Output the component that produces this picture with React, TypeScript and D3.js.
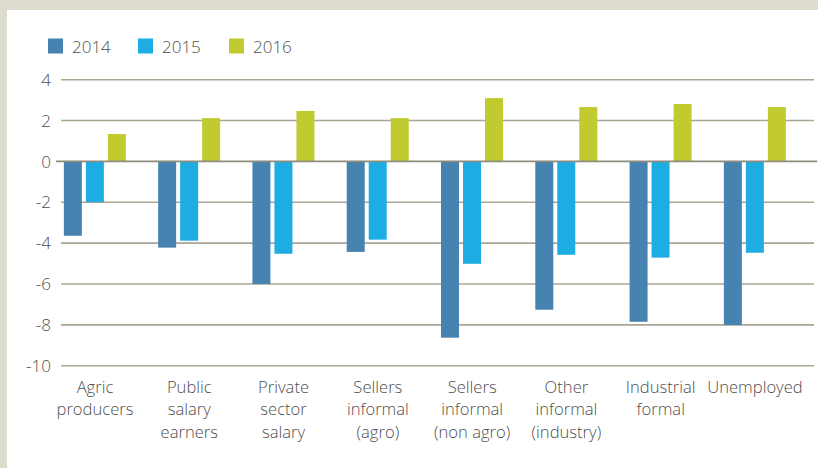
import React from "react";
import * as d3 from "d3";

const categories = [
  "Agric\nproducers",
  "Public\nsalary\nearners",
  "Private\nsector\nsalary",
  "Sellers\ninformal\n(agro)",
  "Sellers\ninformal\n(non agro)",
  "Other\ninformal\n(industry)",
  "Industrial\nformal",
  "Unemployed",
];
const seriesNames = ["2014", "2015", "2016"];
const values2014 = [-3.64, -4.22, -6.0, -4.43, -8.63, -7.26, -7.85, -8.01];
const values2015 = [-1.99, -3.88, -4.52, -3.83, -5.01, -4.57, -4.71, -4.47];
const values2016 = [1.34, 2.12, 2.47, 2.12, 3.1, 2.66, 2.81, 2.66];
const yTicks = [4, 2, 0, -2, -4, -6, -8, -10];
const colors = ["#4783b0", "#1eade3", "#c1ca2f"];

const W = 818;
const H = 468;
const FONT = "'Open Sans', sans-serif";
const TEXT = "#4f4f4f";

export default function App() {
  const seriesValues = [values2014, values2015, values2016];
  const x0 = d3.scaleBand<string>().domain(categories).range([47.86, 802.14]).padding(0);
  const x1 = d3
    .scaleBand<string>()
    .domain(seriesNames)
    .range([16, 78])
    .paddingInner(4 / 22)
    .paddingOuter(0);
  const y = d3.scaleLinear().domain([-10, 4]).range([365.7, 79.7]);

  const legendX = [48, 138, 229];

  return (
    <svg
      width={W}
      height={H}
      style={{ position: "absolute", left: 0, top: 0, display: "block" }}
      fontFamily={FONT}
      fontWeight={300}
    >
      <rect x={0} y={0} width={W} height={H} fill="#dedbcf" />
      <rect x={7} y={10} width={W - 7} height={H - 10} fill="#ffffff" />

      {/* legend */}
      {seriesNames.map((s, i) => (
        <g key={s}>
          <rect x={legendX[i]} y={38.5} width={15} height={15} fill={colors[i]} />
          <text x={legendX[i] + 24} y={53} fontSize={17} fill={TEXT}>
            {s}
          </text>
        </g>
      ))}

      {/* gridlines */}
      {yTicks
        .filter((t) => t !== 0)
        .map((t) => (
          <line
            key={t}
            x1={61}
            x2={814}
            y1={y(t)}
            y2={y(t)}
            stroke="#a9a696"
            strokeWidth={1.6}
          />
        ))}

      {/* y tick labels */}
      {yTicks.map((t) => (
        <text
          key={"l" + t}
          x={51}
          y={y(t)}
          dy="0.36em"
          textAnchor="end"
          fontSize={17}
          fill={TEXT}
        >
          {String(t)}
        </text>
      ))}

      {/* bars */}
      {categories.map((c, ci) => (
        <g key={c} transform={`translate(${x0(c)},0)`}>
          {seriesNames.map((s, si) => {
            const v = seriesValues[si][ci];
            const top = y(Math.max(0, v));
            const bot = y(Math.min(0, v));
            return (
              <rect
                key={s}
                x={x1(s)}
                y={top}
                width={x1.bandwidth()}
                height={bot - top}
                fill={colors[si]}
              />
            );
          })}
        </g>
      ))}

      {/* zero line */}
      <line x1={56} x2={817} y1={y(0)} y2={y(0)} stroke="#8e8b7c" strokeWidth={1.6} />

      {/* category labels */}
      {categories.map((c) => {
        const cx = (x0(c) as number) + x0.bandwidth() / 2;
        return (
          <text key={"c" + c} x={cx} y={392.5} textAnchor="middle" fontSize={16.6} fill={TEXT}>
            {c.split("\n").map((line, li) => (
              <tspan key={li} x={cx} dy={li === 0 ? 0 : 22.7}>
                {line}
              </tspan>
            ))}
          </text>
        );
      })}
    </svg>
  );
}
